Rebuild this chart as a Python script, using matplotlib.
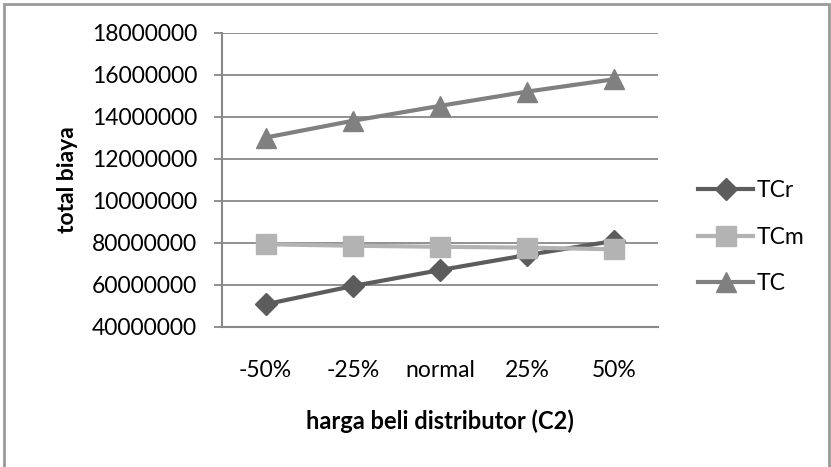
import numpy as np
import matplotlib.pyplot as plt
from matplotlib.patches import Rectangle

# total biaya per skenario harga beli distributor (C2)
kategori = ['-50%', '-25%', 'normal', '25%', '50%']
tcr = [50800000, 59500000, 67100000, 74300000, 81000000]
tcm = [79400000, 78700000, 78200000, 77800000, 77000000]
tc = [130200000, 138200000, 145300000, 152100000, 158000000]

y_ticks = [40000000, 60000000, 80000000, 100000000, 120000000,
           140000000, 160000000, 180000000]
y_labels = ['40000000', '60000000', '80000000', '10000000', '12000000',
            '14000000', '16000000', '18000000']

plt.rcParams['font.family'] = ['Lato', 'DejaVu Sans']
fs = 16.5

fig = plt.figure(figsize=(8.31, 4.67), dpi=100)
ax = fig.add_axes([222 / 831, 1 - 327 / 467, 436 / 831, 294 / 467])

x = np.arange(len(kategori))
ax.plot(x, tcr, color='#5c5c5c', lw=3, marker='D', ms=11, label='TCr', zorder=3)
ax.plot(x, tcm, color='#b3b3b3', lw=3, marker='s', ms=14, label='TCm', zorder=3)
ax.plot(x, tc, color='#808080', lw=3, marker='^', ms=15, label='TC', zorder=3)

ax.set_xlim(-0.5, 4.5)
ax.set_ylim(40000000, 180000000)
ax.set_yticks(y_ticks)
ax.set_yticklabels(y_labels, fontsize=fs)
ax.set_xticks(x)
ax.set_xticklabels(kategori, fontsize=fs)
ax.tick_params(axis='x', length=0, pad=24)
ax.tick_params(axis='y', length=6, width=1.3, color='#888888', pad=12)
ax.grid(axis='y', color='#888888', lw=1.3)
ax.set_axisbelow(True)
for s in ['top', 'right']:
    ax.spines[s].set_visible(False)
for s in ['left', 'bottom']:
    ax.spines[s].set_color('#888888')
    ax.spines[s].set_linewidth(1.5)

ax.set_ylabel('total biaya', fontsize=fs, fontweight='bold')
ax.yaxis.set_label_coords(-0.33, 0.5)
ax.set_xlabel('harga beli distributor (C2)', fontsize=17, fontweight='bold')
ax.xaxis.set_label_coords(0.5, -0.28)

ax.legend(loc='center left', bbox_to_anchor=(1.092, 0.306), frameon=False,
          fontsize=fs, handlelength=2.4, handletextpad=0.15, labelspacing=1.1,
          borderaxespad=0, borderpad=0)

# bingkai grafik
fig.patches.append(Rectangle((4 / 831, -0.05), 825 / 831, 1.05 - 4 / 467,
                             transform=fig.transFigure, fill=False,
                             ec='#999999', lw=2))

fig.savefig('out.png', dpi=100)
